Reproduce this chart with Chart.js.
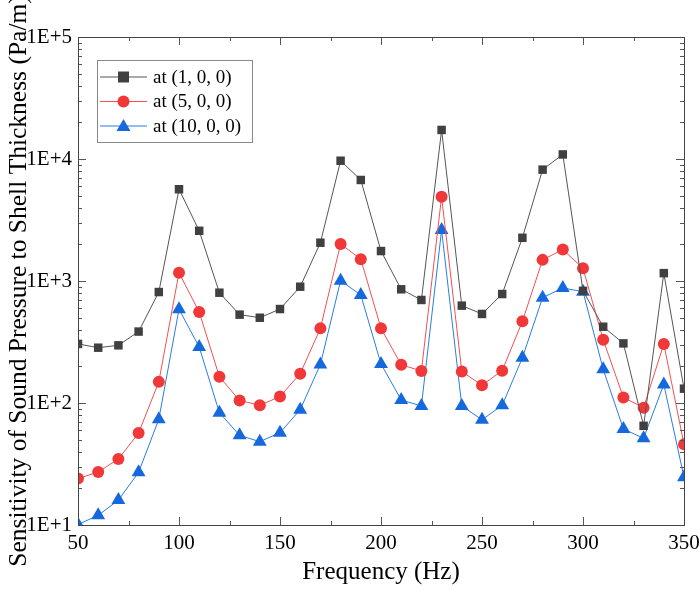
<!DOCTYPE html>
<html>
<head>
<meta charset="utf-8">
<script src="https://cdn.jsdelivr.net/npm/chart.js@4.4.0/dist/chart.umd.min.js"></script>
<style>
  html, body { margin: 0; padding: 0; background: #fff; }
  #wrap { width: 699px; height: 591px; }
</style>
</head>
<body>
<div id="wrap"><canvas id="sensChart"></canvas></div>
<script>
  // frequencies (Hz)
  const freqs = [50, 60, 70, 80, 90, 100, 110, 120, 130, 140, 150, 160, 170, 180, 190, 200,
    210, 220, 230, 240, 250, 260, 270, 280, 290, 300, 310, 320, 330, 340, 350];

  // sensitivity values (Pa/m)
  const at1 = [305, 284, 297, 385, 812, 5650, 2580, 802, 530, 500, 589, 898, 2060, 9680, 6730, 1760,
    855, 699, 17300, 628, 537, 782, 2260, 8180, 10900, 830, 422, 308, 65, 1160, 131];
  const at5 = [24.0, 27.2, 34.7, 56.8, 149, 1170, 557, 164, 105, 95.7, 113, 174, 409, 2010, 1510, 409,
    206, 183, 4910, 181, 140, 184, 467, 1490, 1810, 1270, 330, 111, 91.6, 305, 45.8];
  const at10 = [10.1, 12.0, 16.0, 27.0, 73.5, 586, 288, 83.3, 54.3, 48.2, 57.1, 88.1, 207, 1006, 768, 209,
    106, 94.5, 2620, 94.5, 72.9, 95.7, 235, 730, 877, 818, 189, 61.2, 51.4, 142, 24.6];

  const seriesNames = ['at (1, 0, 0)', 'at (5, 0, 0)', 'at (10, 0, 0)'];
  const xTicks = [50, 100, 150, 200, 250, 300, 350];
  const yDecades = [10, 100, 1000, 10000, 100000];

  const serif = "'Liberation Serif', 'DejaVu Serif', serif";

  function pts(vals) {
    return freqs.map((f, i) => ({ x: f, y: vals[i] }));
  }

  // inward ticks on all four sides + frame
  const frameTicks = {
    id: 'frameTicks',
    afterDraw(chart) {
      const { ctx, chartArea: a, scales } = chart;
      const xs = scales.x, ys = scales.y;
      ctx.save();
      ctx.strokeStyle = '#555';
      ctx.lineWidth = 1;
      ctx.beginPath();
      // x ticks: major every 50, minor every 25
      for (let v = 50; v <= 350; v += 25) {
        const px = Math.round(xs.getPixelForValue(v)) + 0.5;
        const len = (v % 50 === 0) ? 8 : 4;
        ctx.moveTo(px, a.bottom); ctx.lineTo(px, a.bottom - len);
        ctx.moveTo(px, a.top); ctx.lineTo(px, a.top + len);
      }
      // y ticks: decades major, 2..9 minor
      for (let e = 1; e <= 5; e++) {
        for (let m = 1; m <= 9; m++) {
          const v = m * Math.pow(10, e);
          if (v > 100000) break;
          const py = Math.round(ys.getPixelForValue(v)) + 0.5;
          const len = (m === 1) ? 8 : 4;
          ctx.moveTo(a.left, py); ctx.lineTo(a.left + len, py);
          ctx.moveTo(a.right, py); ctx.lineTo(a.right - len, py);
        }
      }
      ctx.stroke();
      ctx.strokeStyle = '#444';
      ctx.strokeRect(Math.round(a.left) + 0.5, Math.round(a.top) + 0.5,
        Math.round(a.right - a.left), Math.round(a.bottom - a.top));
      ctx.restore();
    }
  };

  // legend with line + marker samples, boxed
  const boxLegend = {
    id: 'boxLegend',
    afterDraw(chart) {
      const ctx = chart.ctx;
      const bx = 97, by = 60, bw = 155, bh = 82;
      ctx.save();
      ctx.fillStyle = '#fff';
      ctx.fillRect(bx, by, bw, bh);
      ctx.strokeStyle = '#888';
      ctx.lineWidth = 1;
      ctx.strokeRect(bx + 0.5, by + 0.5, bw, bh);
      chart.data.datasets.forEach((ds, i) => {
        const cy = 77 + i * 24.5;
        ctx.strokeStyle = ds.borderColor;
        ctx.lineWidth = 1;
        ctx.beginPath();
        ctx.moveTo(100, cy); ctx.lineTo(147, cy);
        ctx.stroke();
        ctx.fillStyle = ds.pointBackgroundColor;
        ctx.beginPath();
        if (ds.pointStyle === 'rect') {
          ctx.rect(123.5 - 5.5, cy - 5.5, 11, 11);
        } else if (ds.pointStyle === 'circle') {
          ctx.arc(123.5, cy, 6, 0, Math.PI * 2);
        } else {
          ctx.moveTo(123.5, cy - 7); ctx.lineTo(130.5, cy + 5); ctx.lineTo(116.5, cy + 5); ctx.closePath();
        }
        ctx.fill();
        ctx.fillStyle = '#000';
        ctx.font = '19px ' + serif;
        ctx.textBaseline = 'middle';
        ctx.fillText(ds.label, 153, cy + 1);
      });
      ctx.restore();
    }
  };

  const ctx = document.getElementById('sensChart').getContext('2d');
  new Chart(ctx, {
    type: 'line',
    data: {
      datasets: [
        {
          label: seriesNames[0], data: pts(at1),
          borderColor: '#555555', borderWidth: 1,
          pointStyle: 'rect', pointRadius: 6, pointBackgroundColor: '#404040', pointBorderWidth: 0
        },
        {
          label: seriesNames[1], data: pts(at5),
          borderColor: '#f25050', borderWidth: 1,
          pointStyle: 'circle', pointRadius: 6, pointBackgroundColor: '#f03838', pointBorderWidth: 0
        },
        {
          label: seriesNames[2], data: pts(at10),
          borderColor: '#2a7de0', borderWidth: 1,
          pointStyle: 'triangle', pointRadius: 8, pointBackgroundColor: '#1668dd', pointBorderWidth: 0
        }
      ]
    },
    options: {
      responsive: true,
      maintainAspectRatio: false,
      animation: false,
      layout: { padding: { top: 37, right: 0, left: 0, bottom: 0 } },
      plugins: {
        legend: { display: false },
        tooltip: { enabled: false }
      },
      scales: {
        x: {
          type: 'linear', min: 50, max: 350,
          afterBuildTicks: (s) => { s.ticks = xTicks.map(v => ({ value: v })); },
          afterFit: (s) => { s.height = 66; s.paddingRight = 15; },
          grid: { display: false, drawTicks: false },
          border: { display: false },
          ticks: { color: '#000', font: { family: serif, size: 21 }, padding: 6, maxRotation: 0 },
          title: { display: true, text: 'Frequency (Hz)', color: '#000', font: { family: serif, size: 25 }, padding: { top: 2 } }
        },
        y: {
          type: 'logarithmic', min: 10, max: 100000,
          afterBuildTicks: (s) => { s.ticks = yDecades.map(v => ({ value: v })); },
          afterFit: (s) => { s.width = 78; },
          grid: { display: false, drawTicks: false },
          border: { display: false },
          ticks: {
            color: '#000', font: { family: serif, size: 21 }, padding: 6,
            callback: (v) => '1E+' + Math.round(Math.log10(v))
          },
          title: {
            display: true, text: 'Sensitivity of Sound Pressure to Shell Thickness (Pa/m)',
            color: '#000', font: { family: serif, size: 25.5 }, padding: { bottom: 0 }
          }
        }
      }
    },
    plugins: [frameTicks, boxLegend]
  });
</script>
</body>
</html>
